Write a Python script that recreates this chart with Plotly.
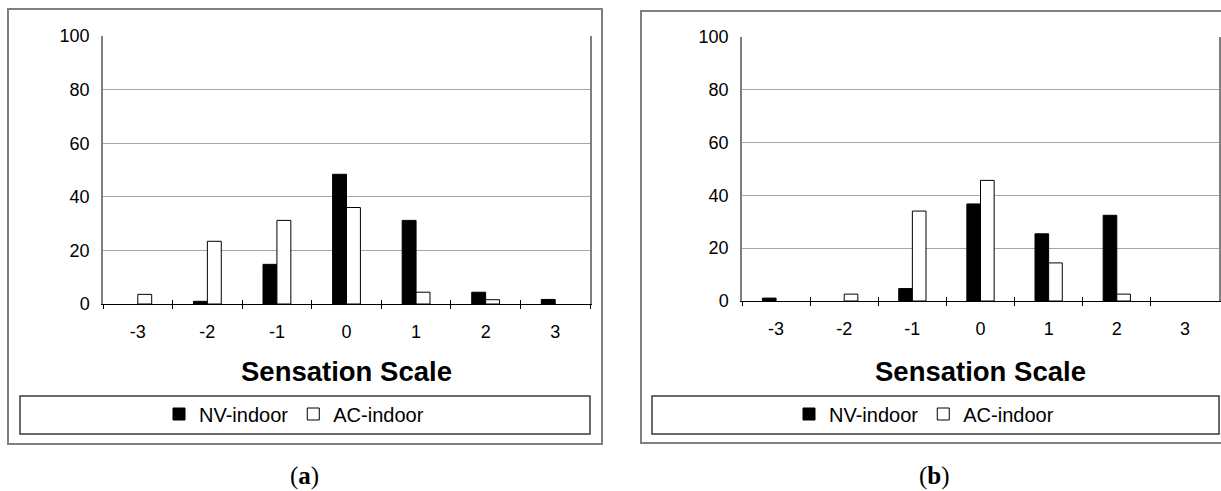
import plotly.graph_objects as go

# Thermal sensation vote distribution (%), two survey groups
categories = ["-3", "-2", "-1", "0", "1", "2", "3"]
nv_indoor_a = [0, 1.0, 14.8, 48.4, 31.2, 4.4, 1.7]
ac_indoor_a = [3.6, 23.4, 31.2, 36.0, 4.4, 1.6, 0]
nv_indoor_b = [1.1, 0, 4.7, 36.7, 25.4, 32.4, 0]
ac_indoor_b = [0, 2.6, 34.0, 45.6, 14.4, 2.6, 0]
y_ticks = [0, 20, 40, 60, 80, 100]
series_names = ["NV-indoor", "AC-indoor"]
panel_labels = ["(<b>a</b>)", "(<b>b</b>)"]
axis_title = "Sensation Scale"

W, H = 1221, 491
FONT = "Liberation Sans, Arial, sans-serif"


def px(x):
    return x / W


def py(y):
    return (H - y) / H


def outline(values):
    # no outline on empty bars so zero values stay invisible
    return [0 if v == 0 else 1 for v in values]


fills = ["black", "white"]

fig = go.Figure()

panels = [
    dict(x="x", y="y", ox="x3", leg="legend", series=[nv_indoor_a, ac_indoor_a]),
    dict(x="x2", y="y2", ox="x4", leg="legend2", series=[nv_indoor_b, ac_indoor_b]),
]

for p in panels:
    for name, vals, fill in zip(series_names, p["series"], fills):
        fig.add_trace(go.Bar(
            x=categories, y=vals, name=name, showlegend=False,
            marker=dict(color=fill, line=dict(color="black", width=outline(vals))),
            xaxis=p["x"], yaxis=p["y"], hoverinfo="skip",
        ))
    # legend entries live on the overlay axis (which also draws the upward tick halves)
    for name, fill in zip(series_names, fills):
        fig.add_trace(go.Bar(
            x=[None], y=[None], name=name, legend=p["leg"],
            marker=dict(color=fill, line=dict(color="black", width=1)),
            xaxis=p["ox"], yaxis=p["y"], hoverinfo="skip",
        ))

# plot-area geometry (pixels)
geo = {
    "a": dict(x0=103, x1=590, top=36, bottom=304),
    "b": dict(x0=742, x1=1219, top=36.5, bottom=301),
}

tickfont = dict(family=FONT, size=18, color="black")


def xaxis_cfg(g):
    return dict(
        domain=[px(g["x0"]), px(g["x1"])], type="category",
        categoryorder="array", categoryarray=categories,
        tickson="boundaries", ticks="outside", ticklen=4, tickcolor="black",
        showline=True, linecolor="black", linewidth=1, showgrid=False,
        zeroline=False, tickfont=tickfont, ticklabelstandoff=11,
        automargin=False, fixedrange=True,
    )


def yaxis_cfg(g):
    return dict(
        domain=[py(g["bottom"]), py(g["top"])], range=[0, 100],
        tickvals=y_ticks, showgrid=True, gridcolor="#a6a6a6", gridwidth=1,
        showline=True, linecolor="#7f7f7f", linewidth=1.5, mirror=True,
        ticks="", zeroline=False, tickfont=tickfont, ticklabelstandoff=8,
        automargin=False, fixedrange=True,
    )


def overlay_cfg(g, over, anchor):
    return dict(
        domain=[px(g["x0"]), px(g["x1"])], overlaying=over, anchor=anchor,
        range=[-0.5, 6.5], tickvals=[i - 0.5 for i in range(8)],
        ticks="inside", ticklen=4, tickcolor="black", showticklabels=False,
        showline=False, showgrid=False, zeroline=False, automargin=False,
        fixedrange=True,
    )


legend_common = dict(
    orientation="h", xanchor="center", yanchor="middle",
    font=dict(family=FONT, size=20, color="black"),
    bgcolor="rgba(0,0,0,0)", borderwidth=0, traceorder="normal",
    itemwidth=30,
)

fig.update_layout(
    width=W, height=H,
    margin=dict(l=0, r=0, t=0, b=0, pad=0, autoexpand=False),
    paper_bgcolor="white", plot_bgcolor="white",
    barmode="group", bargap=0.6, bargroupgap=0,
    xaxis=dict(xaxis_cfg(geo["a"]), anchor="y"),
    yaxis=dict(yaxis_cfg(geo["a"]), anchor="x"),
    xaxis2=dict(xaxis_cfg(geo["b"]), anchor="y2"),
    yaxis2=dict(yaxis_cfg(geo["b"]), anchor="x2"),
    xaxis3=overlay_cfg(geo["a"], "x", "y"),
    xaxis4=overlay_cfg(geo["b"], "x2", "y2"),
    legend=dict(legend_common, x=px(294), y=py(414)),
    legend2=dict(legend_common, x=px(924), y=py(414)),
)

# panel frames and legend boxes
shapes = [
    dict(x0=8, x1=602, y0=9, y1=444, color="#808080", w=2),
    dict(x0=641, x1=1226, y0=11, y1=443, color="#808080", w=2),
    dict(x0=20, x1=590, y0=396, y1=434, color="#3a3a3a", w=1.5),
    dict(x0=652, x1=1219, y0=396, y1=434, color="#3a3a3a", w=1.5),
]
for s in shapes:
    fig.add_shape(type="rect", xref="paper", yref="paper",
                  x0=px(s["x0"]), x1=px(s["x1"]), y0=py(s["y1"]), y1=py(s["y0"]),
                  line=dict(color=s["color"], width=s["w"]), fillcolor="rgba(0,0,0,0)",
                  layer="above")

# axis titles and panel labels
for g, lab, lx in ((geo["a"], panel_labels[0], 304), (geo["b"], panel_labels[1], 935)):
    fig.add_annotation(text=f"<b>{axis_title}</b>", xref="paper", yref="paper",
                       x=px((g["x0"] + g["x1"]) / 2), y=py(371),
                       xanchor="center", yanchor="middle", showarrow=False,
                       font=dict(family=FONT, size=27.5, color="black"))
    fig.add_annotation(text=lab, xref="paper", yref="paper",
                       x=px(lx), y=py(476), xanchor="center", yanchor="middle",
                       showarrow=False,
                       font=dict(family="Liberation Serif, Times New Roman, serif",
                                 size=25, color="black"))

fig.write_html("out.html")
